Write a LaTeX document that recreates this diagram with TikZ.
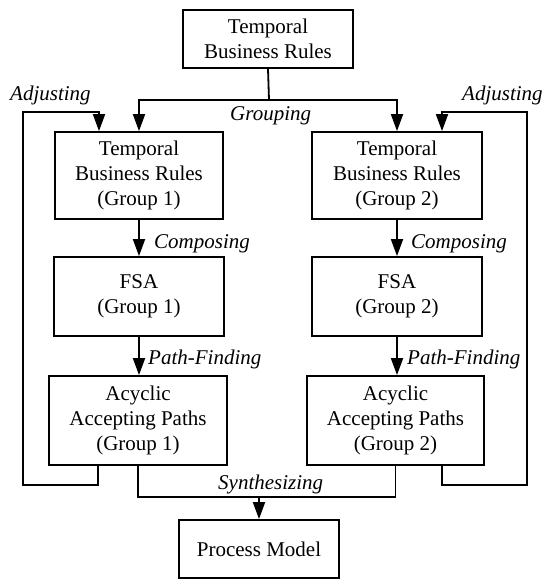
\documentclass[tikz,border=0pt]{standalone}
\usepackage{fontspec}
\setmainfont{Liberation Serif}
\usetikzlibrary{arrows.meta}
\begin{document}
\begin{tikzpicture}[x=1pt,y=-1pt,
  box/.style={draw,line width=1.8pt,inner sep=0pt,align=center,
    font=\fontsize{21}{25}\selectfont},
  wire/.style={line width=1.8pt},
  arr/.style={wire,-{Triangle[length=17pt,width=12pt]}},
  lbl/.style={inner sep=0pt,font=\fontsize{21}{25}\selectfont\itshape}]
\useasboundingbox (0,0) rectangle (543,580);

% boxes
\node[box,minimum width=170pt,minimum height=58pt] (top) at (268,39) {Temporal\\Business Rules};
\node[box,minimum width=168pt,minimum height=87pt] (L1) at (139,175.5) {Temporal\\Business Rules\\(Group 1)};
\node[box,minimum width=170pt,minimum height=87pt] (R1) at (397,175.5) {Temporal\\Business Rules\\(Group 2)};
\node[box,minimum width=170pt,minimum height=79pt] (L2) at (139,296.5) {FSA\\(Group 1)};
\node[box,minimum width=170pt,minimum height=79pt] (R2) at (397,296.5) {FSA\\(Group 2)};
\node[box,minimum width=178pt,minimum height=89pt] (L3) at (138,420.5) {Acyclic\\Accepting Paths\\(Group 1)};
\node[box,minimum width=177pt,minimum height=89pt] (R3) at (395.5,420.5) {Acyclic\\Accepting Paths\\(Group 2)};
\node[box,minimum width=160pt,minimum height=58pt] (P) at (259,549) {Process Model};

% grouping
\coordinate (split) at (269,100);
\draw[wire] (top.south) -- (split);
\draw[arr] (split) -| (L1.north);
\draw[arr] (split) -| (R1.north);

% composing and path finding
\draw[arr] (L1.south) -- (L2.north);
\draw[arr] (R1.south) -- (R2.north);
\draw[arr] (L2.south) -- (L2.south |- L3.north);
\draw[arr] (R2.south) -- (R2.south |- R3.north);

% adjusting loops
\coordinate (adjLb) at (98,485);
\coordinate (adjLt) at (22.7,112);
\draw[arr] ([xshift=-40pt]L3.south) -- (adjLb) -| (adjLt) -| ([xshift=-40pt]L1.north);
\coordinate (adjRb) at (442,485);
\coordinate (adjRt) at (527,112);
\draw[arr] ([xshift=46.5pt]R3.south) -- (adjRb) -| (adjRt) -| ([xshift=45pt]R1.north);

% synthesizing
\coordinate (merge) at (259,497);
\draw[wire] (L3.south) |- (merge) -| (R3.south);
\draw[arr] (merge) -- (P.north);

% labels
\node[lbl,anchor=base west] (tAdjL) at (10,101) {Adjusting};
\node[lbl,anchor=base west] (tAdjR) at (462,101) {Adjusting};
\node[lbl,anchor=base west] (tGroup) at (230,121) {Grouping};
\node[lbl,anchor=base west] (tCompL) at (154,248) {Composing};
\node[lbl,anchor=base west] (tCompR) at (411,248) {Composing};
\node[lbl,anchor=base west] (tPathL) at (148,364) {Path-Finding};
\node[lbl,anchor=base west] (tPathR) at (407,364) {Path-Finding};
\node[lbl,anchor=base west] (tSynth) at (218,489) {Synthesizing};
\end{tikzpicture}
\end{document}
